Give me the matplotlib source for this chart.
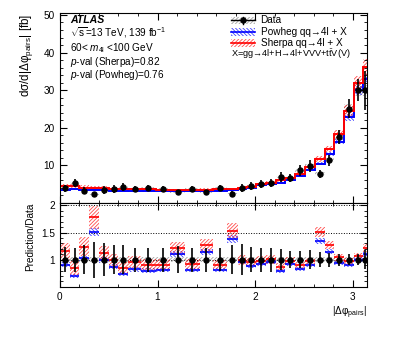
import matplotlib
matplotlib.use("Agg")
import matplotlib.pyplot as plt
import numpy as np
from matplotlib.patches import Rectangle
from matplotlib.ticker import MultipleLocator

plt.rcParams["font.family"] = ["Liberation Sans", "DejaVu Sans"]
plt.rcParams["mathtext.fontset"] = "custom"
plt.rcParams["mathtext.rm"] = "Liberation Sans"
plt.rcParams["mathtext.it"] = "Liberation Sans:italic"
plt.rcParams["mathtext.bf"] = "Liberation Sans:bold"
plt.rcParams["hatch.linewidth"] = 0.6

# |dphi_pairs| bin edges
BIN_EDGES = [0.0, 0.1, 0.2, 0.3, 0.4, 0.5, 0.6, 0.7, 0.83, 0.98, 1.13, 1.28,
             1.43, 1.57, 1.71, 1.82, 1.91, 2.01, 2.11, 2.21, 2.31, 2.41,
             2.51, 2.61, 2.71, 2.81, 2.91, 3.01, 3.1, np.pi]

# measured cross-section [fb]
DATA = [3.85, 5.2, 3.25, 2.2, 3.5, 3.7, 4.2, 3.7, 3.9, 3.7, 2.8, 3.7, 2.75,
        3.9, 2.4, 3.9, 4.5, 5.0, 5.2, 6.8, 6.6, 8.6, 9.7, 7.7, 11.3, 17.5,
        25.0, 30.0, 29.9]
# relative total uncertainty of data
DATA_REL_ERR = [0.23, 0.22, 0.27, 0.33, 0.30, 0.27, 0.27, 0.22, 0.22, 0.22,
                0.25, 0.22, 0.22, 0.21, 0.27, 0.28, 0.23, 0.22, 0.22, 0.19,
                0.16, 0.16, 0.17, 0.14, 0.13, 0.11, 0.10, 0.10, 0.17]
DATA_REL_SYST = [0.05] * 29

SHERPA = [4.43, 4.42, 4.03, 3.92, 3.92, 3.66, 3.57, 3.55, 3.55, 3.37, 3.39,
          3.40, 3.47, 3.55, 3.67, 3.90, 4.28, 4.90, 5.25, 5.92, 6.47, 7.74,
          9.41, 11.63, 14.35, 18.2, 24.5, 31.8, 36.2]
SHERPA_REL_UNC = [0.14, 0.15, 0.14, 0.12, 0.12, 0.12, 0.12, 0.11, 0.11, 0.11,
                  0.10, 0.10, 0.10, 0.10, 0.09, 0.09, 0.08, 0.08, 0.08, 0.08,
                  0.07, 0.07, 0.07, 0.06, 0.06, 0.06, 0.06, 0.06, 0.06]

POWHEG = [3.50, 3.64, 3.32, 3.32, 3.47, 3.22, 3.11, 3.03, 3.12, 3.00, 3.11,
          3.00, 3.14, 3.16, 3.31, 3.74, 3.96, 4.60, 4.99, 5.37, 6.07, 7.14,
          8.73, 10.40, 13.0, 16.3, 22.75, 30.0, 32.9]
POWHEG_REL_UNC = [0.05] * 16 + [0.04] * 13

edges = np.array(BIN_EDGES)
left = edges[:-1]
width = np.diff(edges)
centers = left + width / 2
data = np.array(DATA)
data_err = data * np.array(DATA_REL_ERR)
sherpa = np.array(SHERPA)
powheg = np.array(POWHEG)

RED = "#ff0000"
BLUE = "#0000ff"
RED_HATCH = (1.0, 0.0, 0.0, 0.7)
BLUE_HATCH = (0.0, 0.0, 1.0, 0.75)
GREY_HATCH = (0.55, 0.55, 0.55, 0.8)
FWD = "/" * 9
BWD = "\\" * 9
FS = 7.2


def style_axis(ax):
    ax.tick_params(which="both", direction="in", top=True, right=True,
                   labelsize=FS)
    ax.tick_params(which="major", length=5)
    ax.tick_params(which="minor", length=2.5)
    for sp in ax.spines.values():
        sp.set_linewidth(0.8)


def hatch_boxes(ax, center_vals, half, color, hatch):
    ax.bar(left, 2 * half, bottom=center_vals - half, width=width,
           align="edge", facecolor="none", edgecolor=color, hatch=hatch,
           linewidth=0)


fig = plt.figure(figsize=(3.99, 3.37), dpi=100)
ax = fig.add_axes([0.150, 0.3985, 0.769, 0.5615])
rax = fig.add_axes([0.150, 0.149, 0.769, 0.2495])

# upper panel
hatch_boxes(ax, data, data * np.array(DATA_REL_SYST), GREY_HATCH, FWD)
hatch_boxes(ax, powheg, powheg * np.array(POWHEG_REL_UNC), BLUE_HATCH, BWD)
hatch_boxes(ax, sherpa, sherpa * np.array(SHERPA_REL_UNC), RED_HATCH, FWD)
ax.stairs(powheg, edges, baseline=None, color=BLUE, linewidth=1.4)
ax.stairs(sherpa, edges, baseline=None, color=RED, linewidth=1.4)
ax.errorbar(centers, data, yerr=data_err, fmt="o", color="black",
            markersize=3.6, elinewidth=1.2, capsize=0, zorder=5)

ax.set_xlim(0, np.pi)
ax.set_ylim(0, 50.4)
ax.xaxis.set_major_locator(MultipleLocator(1))
ax.xaxis.set_minor_locator(MultipleLocator(0.2))
ax.yaxis.set_minor_locator(MultipleLocator(2))
ax.set_yticks([10, 20, 30, 40, 50])
ax.tick_params(labelbottom=False)
style_axis(ax)
ax.set_ylabel("dσ/d|Δφ$_{\\rm pairs}$| [fb]", fontsize=8.4, loc="top",
              labelpad=6)

# annotations
ax.text(0.033, 0.963, "ATLAS", transform=ax.transAxes, fontsize=7.6,
        fontweight="bold", fontstyle="italic", va="center")
ax.text(0.033, 0.898, "$\\sqrt{\\rm s}$=13 TeV, 139 fb$^{-1}$",
        transform=ax.transAxes, fontsize=FS, va="center")
ax.text(0.033, 0.819, "60< $m_{\\rm 4l}$ <100 GeV", transform=ax.transAxes,
        fontsize=FS, va="center")
ax.text(0.033, 0.745, "$p$-val (Sherpa)=0.82", transform=ax.transAxes,
        fontsize=FS, va="center")
ax.text(0.033, 0.676, "$p$-val (Powheg)=0.76", transform=ax.transAxes,
        fontsize=FS, va="center")

# legend, drawn by hand in ROOT style
lx0, lx1, lh = 0.559, 0.635, 0.042
rows = [(0.963, GREY_HATCH, FWD, "Data"),
        (0.902, BLUE_HATCH, BWD, "Powheg qq→4l + X"),
        (0.843, RED_HATCH, FWD, "Sherpa qq→4l + X")]
for yc, col, hat, label in rows:
    ax.add_patch(Rectangle((lx0, yc - lh / 2), lx1 - lx0, lh,
                           transform=ax.transAxes, facecolor="none",
                           edgecolor=col, hatch=hat, linewidth=0))
    ax.text(0.654, yc, label, transform=ax.transAxes, fontsize=FS,
            va="center")
xmid = (lx0 + lx1) / 2
ax.plot([lx0, lx1], [0.963, 0.963], transform=ax.transAxes, color="black",
        linewidth=1.0)
ax.plot([xmid, xmid], [0.963 - lh / 2, 0.963 + lh / 2], transform=ax.transAxes,
        color="black", linewidth=1.0)
ax.plot([xmid], [0.963], "o", transform=ax.transAxes, color="black",
        markersize=3.6)
for yc, col in [(0.902, BLUE), (0.843, RED)]:
    ax.plot([lx0, lx1], [yc, yc], transform=ax.transAxes, color=col,
            linewidth=1.2)
ax.text(0.559, 0.785, "X=gg→4l+H→4l+VVV+t$\\bar{\\rm t}$V(V)",
        transform=ax.transAxes, fontsize=6.6, va="center")

# ratio panel
r_sherpa = sherpa / data
r_powheg = powheg / data
for lvl in [1.0, 1.5, 2.0]:
    rax.axhline(lvl, color="black", linestyle=":", linewidth=0.7, zorder=0)
hatch_boxes(rax, np.ones_like(data), np.array(DATA_REL_SYST), GREY_HATCH, FWD)
hatch_boxes(rax, r_powheg, r_powheg * np.array(POWHEG_REL_UNC), BLUE_HATCH, BWD)
hatch_boxes(rax, r_sherpa, r_sherpa * np.array(SHERPA_REL_UNC), RED_HATCH, FWD)
rax.hlines(r_powheg, left, edges[1:], color=BLUE, linewidth=1.2)
rax.hlines(r_sherpa, left, edges[1:], color=RED, linewidth=1.2)
rax.errorbar(centers, np.ones_like(data), yerr=np.array(DATA_REL_ERR), fmt="o",
             color="black", markersize=3.6, elinewidth=1.2, capsize=0,
             zorder=5)

rax.set_xlim(0, np.pi)
rax.set_ylim(0.5, 2.05)
rax.xaxis.set_major_locator(MultipleLocator(1))
rax.xaxis.set_minor_locator(MultipleLocator(0.2))
rax.set_yticks([1, 1.5, 2])
rax.set_yticklabels(["1", "1.5", "2"])
rax.yaxis.set_minor_locator(MultipleLocator(0.1))
style_axis(rax)
rax.set_ylabel("Prediction/Data", fontsize=FS, loc="top")
rax.set_xlabel("|Δφ$_{\\rm pairs}$|", fontsize=FS, loc="right", labelpad=2)

fig.savefig("out.png", dpi=100)
